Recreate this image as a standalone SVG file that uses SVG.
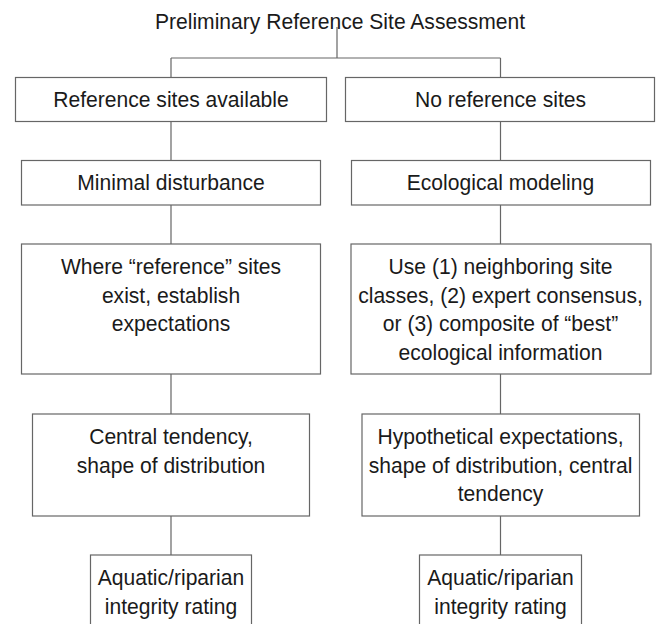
<svg xmlns="http://www.w3.org/2000/svg" width="662" height="624" viewBox="0 0 662 624">
<style>
  .box { fill: #ffffff; stroke: #666666; stroke-width: 1.2; }
  .conn { fill: none; stroke: #666666; stroke-width: 1.2; }
  text { font-family: "Liberation Sans", Arial, Helvetica, sans-serif; font-size: 22.3px; fill: #1a1a1a; text-anchor: middle; }
</style>
<rect x="0" y="0" width="662" height="624" fill="#ffffff"/>
<g id="connectors">
  <path class="conn" d="M337,27 V58 M171,58 H500.5 M171,58 V77.5 M500.5,58 V77.5"/>
  <path class="conn" d="M171,121.5 V160.5 M500.5,121.5 V160.5"/>
  <path class="conn" d="M171,205 V244 M500.5,205 V244"/>
  <path class="conn" d="M171,374 V414 M500.5,374 V414"/>
  <path class="conn" d="M171,516 V555 M500.5,516 V555"/>
</g>
<g id="title">
  <text transform="translate(340,28.5) scale(0.946,1)">Preliminary Reference Site Assessment</text>
</g>
<g id="ref-available">
  <rect class="box" x="15.5" y="77.5" width="311" height="44"/>
  <text transform="translate(171,107) scale(0.946,1)">Reference sites available</text>
</g>
<g id="no-ref">
  <rect class="box" x="345.5" y="77.5" width="309" height="44"/>
  <text transform="translate(500.5,107) scale(0.946,1)">No reference sites</text>
</g>
<g id="minimal-disturbance">
  <rect class="box" x="21.5" y="160.5" width="299" height="44.5"/>
  <text transform="translate(171,190) scale(0.946,1)">Minimal disturbance</text>
</g>
<g id="ecological-modeling">
  <rect class="box" x="351.5" y="160.5" width="299" height="44.5"/>
  <text transform="translate(500.5,190) scale(0.946,1)">Ecological modeling</text>
</g>
<g id="where-reference">
  <rect class="box" x="21.5" y="244" width="299" height="130"/>
  <text transform="translate(171,274) scale(0.946,1)">Where “reference” sites</text>
  <text transform="translate(171,302.5) scale(0.946,1)">exist, establish</text>
  <text transform="translate(171,331) scale(0.946,1)">expectations</text>
</g>
<g id="use-neighboring">
  <rect class="box" x="351" y="244" width="300" height="130"/>
  <text transform="translate(500.5,274) scale(0.946,1)">Use (1) neighboring site</text>
  <text transform="translate(500.5,302.5) scale(0.946,1)">classes, (2) expert consensus,</text>
  <text transform="translate(500.5,331) scale(0.946,1)">or (3) composite of “best”</text>
  <text transform="translate(500.5,359.5) scale(0.946,1)">ecological information</text>
</g>
<g id="central-tendency">
  <rect class="box" x="32.5" y="414" width="277" height="102"/>
  <text transform="translate(171,444) scale(0.946,1)">Central tendency,</text>
  <text transform="translate(171,472.5) scale(0.946,1)">shape of distribution</text>
</g>
<g id="hypothetical">
  <rect class="box" x="362" y="414" width="277.5" height="102"/>
  <text transform="translate(500.5,444) scale(0.946,1)">Hypothetical expectations,</text>
  <text transform="translate(500.5,472.5) scale(0.946,1)">shape of distribution, central</text>
  <text transform="translate(500.5,501) scale(0.946,1)">tendency</text>
</g>
<g id="rating-left">
  <rect class="box" x="90.5" y="555" width="161" height="80"/>
  <text transform="translate(171,585) scale(0.946,1)">Aquatic/riparian</text>
  <text transform="translate(171,613.5) scale(0.946,1)">integrity rating</text>
</g>
<g id="rating-right">
  <rect class="box" x="419.5" y="555" width="162" height="80"/>
  <text transform="translate(500.5,585) scale(0.946,1)">Aquatic/riparian</text>
  <text transform="translate(500.5,613.5) scale(0.946,1)">integrity rating</text>
</g>
</svg>
